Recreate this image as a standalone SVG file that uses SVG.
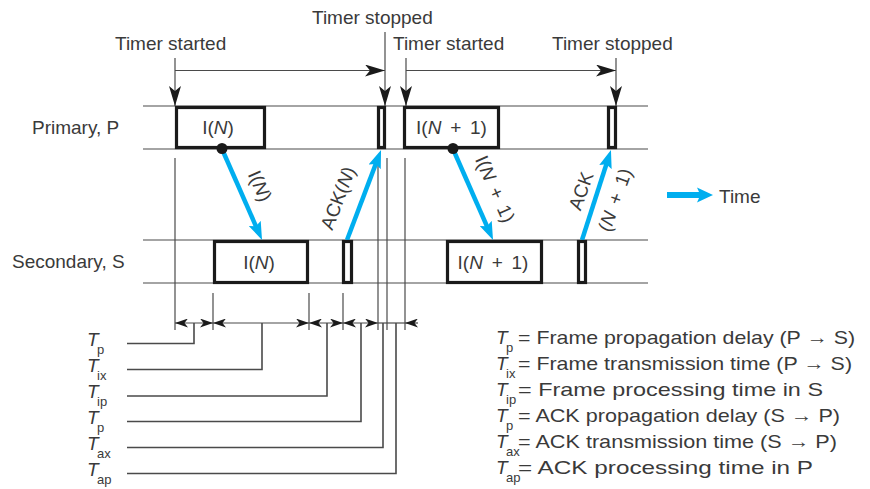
<svg xmlns="http://www.w3.org/2000/svg" width="870" height="489" viewBox="0 0 870 489">
<style>
text{font-family:"Liberation Sans",Arial,sans-serif;font-size:19px;fill:#3a3a3a}
.it{font-style:italic}
.sub{font-size:13px}
.thin{stroke:#4a4a4a;stroke-width:1.2;fill:none}
.lead{stroke:#4a4a4a;stroke-width:1.6;fill:none}
.box{fill:#fff;stroke:#1a1a1a;stroke-width:3.2}
.blue{stroke:#00aeef;stroke-width:4.5;fill:none}
.dot{fill:#1a1a1a}
.mid{text-anchor:middle}
.ws{word-spacing:3.5px}
</style>
<defs>
<marker id="ah" viewBox="0 0 20 12" markerWidth="20" markerHeight="12" refX="20" refY="6" orient="auto" markerUnits="userSpaceOnUse"><path d="M0,0 L20,6 L0,12 L5,6 Z" fill="#1a1a1a"/></marker>
<marker id="dh" viewBox="0 0 13 9" markerWidth="13" markerHeight="9" refX="13" refY="4.5" orient="auto-start-reverse" markerUnits="userSpaceOnUse"><path d="M0,0 L13,4.5 L0,9 L3.5,4.5 Z" fill="#1a1a1a"/></marker>
<marker id="bh" viewBox="0 0 18 13" markerWidth="18" markerHeight="13" refX="8" refY="6.5" orient="auto" markerUnits="userSpaceOnUse"><path d="M0,0 L18,6.5 L0,13 L3,6.5 Z" fill="#00aeef"/></marker>
</defs>
<rect width="870" height="489" fill="#fff"/>

<g id="channels">
<line class="thin" x1="143" y1="106" x2="648" y2="106"/>
<line class="thin" x1="143" y1="149" x2="648" y2="149"/>
<line class="thin" x1="143" y1="240" x2="648" y2="240"/>
<line class="thin" x1="143" y1="283" x2="648" y2="283"/>
<text x="32" y="134">Primary, P</text>
<text x="12" y="268">Secondary, S</text>
</g>

<g id="connectors">
<!-- timer arrows -->
<line class="thin" x1="175" y1="58" x2="175" y2="106" marker-end="url(#ah)"/>
<line class="thin" x1="175" y1="70.5" x2="385" y2="70.5" marker-end="url(#ah)"/>
<line class="thin" x1="385" y1="32" x2="385" y2="106" marker-end="url(#ah)"/>
<line class="thin" x1="406" y1="58" x2="406" y2="106" marker-end="url(#ah)"/>
<line class="thin" x1="406" y1="70.5" x2="616" y2="70.5" marker-end="url(#ah)"/>
<line class="thin" x1="616" y1="58" x2="616" y2="106" marker-end="url(#ah)"/>
<!-- extension lines -->
<line class="thin" x1="175" y1="158" x2="175" y2="330"/>
<line class="thin" x1="213" y1="293" x2="213" y2="330"/>
<line class="thin" x1="309" y1="293" x2="309" y2="330"/>
<line class="thin" x1="343" y1="293" x2="343" y2="330"/>
<line class="thin" x1="378" y1="158" x2="378" y2="330"/>
<line class="thin" x1="387" y1="158" x2="387" y2="330"/>
<line class="thin" x1="405" y1="158" x2="405" y2="330"/>
<!-- dimension line -->
<line class="thin" x1="175" y1="323" x2="213" y2="323" marker-start="url(#dh)" marker-end="url(#dh)"/>
<line class="thin" x1="213" y1="323" x2="309" y2="323" marker-start="url(#dh)" marker-end="url(#dh)"/>
<line class="thin" x1="309" y1="323" x2="343" y2="323" marker-start="url(#dh)" marker-end="url(#dh)"/>
<line class="thin" x1="343" y1="323" x2="378" y2="323" marker-start="url(#dh)" marker-end="url(#dh)"/>
<line class="thin" x1="378" y1="323" x2="405" y2="323"/>
<line class="thin" x1="405" y1="323" x2="418" y2="323" marker-start="url(#dh)"/>
<!-- leader lines -->
<polyline class="lead" points="194,323 194,343.5 127,343.5"/>
<polyline class="lead" points="262,323 262,369.5 127,369.5"/>
<polyline class="lead" points="327,323 327,396 127,396"/>
<polyline class="lead" points="361,323 361,421.5 127,421.5"/>
<polyline class="lead" points="383,323 383,447.5 127,447.5"/>
<polyline class="lead" points="396,323 396,473.5 127,473.5"/>
<!-- blue frame arrows -->
<line class="blue" x1="222" y1="149" x2="258" y2="230.8" marker-end="url(#bh)"/>
<line class="blue" x1="347" y1="240" x2="377.5" y2="159.4" marker-end="url(#bh)"/>
<line class="blue" x1="453" y1="149" x2="489" y2="230.8" marker-end="url(#bh)"/>
<line class="blue" x1="582" y1="240" x2="607.9" y2="159.5" marker-end="url(#bh)"/>
</g>

<g id="timer-labels">
<text x="115" y="50">Timer started</text>
<text x="312" y="24">Timer stopped</text>
<text x="393" y="50">Timer started</text>
<text x="552" y="50">Timer stopped</text>
</g>

<g id="frame-N-primary">
<rect class="box" x="176.5" y="107.5" width="88" height="40"/>
<text class="mid" x="218" y="134">I(<tspan class="it">N</tspan>)</text>
</g>
<g id="ack-N-primary"><rect class="box" x="378.5" y="107.5" width="6" height="40"/></g>
<g id="frame-N1-primary">
<rect class="box" x="404.5" y="107.5" width="94" height="40"/>
<text class="mid ws" x="451.5" y="134">I(<tspan class="it">N</tspan> + 1)</text>
</g>
<g id="ack-N1-primary"><rect class="box" x="608.5" y="107.5" width="7" height="40"/></g>

<g id="frame-N-secondary">
<rect class="box" x="214.5" y="241.5" width="93" height="41"/>
<text class="mid" x="259" y="269">I(<tspan class="it">N</tspan>)</text>
</g>
<g id="ack-N-secondary"><rect class="box" x="343.5" y="241.5" width="8" height="41"/></g>
<g id="frame-N1-secondary">
<rect class="box" x="447.5" y="241.5" width="94" height="41"/>
<text class="mid ws" x="493" y="269">I(<tspan class="it">N</tspan> + 1)</text>
</g>
<g id="ack-N1-secondary"><rect class="box" x="578.5" y="241.5" width="7" height="41"/></g>

<g id="dots">
<circle class="dot" cx="222" cy="148.5" r="5.5"/>
<circle class="dot" cx="453" cy="148.5" r="5.5"/>
</g>

<g id="arrow-labels">
<text class="mid" transform="translate(260,186) rotate(66)" y="6.5">I(<tspan class="it">N</tspan>)</text>
<text class="mid" transform="translate(338,198) rotate(-69)" y="6.5">ACK(<tspan class="it">N</tspan>)</text>
<text class="mid ws" transform="translate(495,189) rotate(66)" y="6.5">I(<tspan class="it">N</tspan> + 1)</text>
<text class="mid" transform="translate(581,191) rotate(-70)" y="6.5">ACK</text>
<text class="mid ws" transform="translate(615,200) rotate(-70)" y="6.5">(<tspan class="it">N</tspan> + 1)</text>
</g>

<g id="time-arrow">
<polygon points="667,192 699,192 697,187.5 713,195 697,202.5 699,198 667,198" fill="#00aeef"/>
<text x="719" y="203">Time</text>
</g>

<g id="interval-labels">
<text class="it" x="87" y="345.5">T</text><text class="sub" x="97" y="353.5">p</text>
<text class="it" x="87" y="371.5">T</text><text class="sub" x="97" y="379.5">ix</text>
<text class="it" x="87" y="398">T</text><text class="sub" x="97" y="406">ip</text>
<text class="it" x="87" y="423.5">T</text><text class="sub" x="97" y="431.5">p</text>
<text class="it" x="87" y="449.5">T</text><text class="sub" x="97" y="457.5">ax</text>
<text class="it" x="87" y="475.5">T</text><text class="sub" x="97" y="483.5">ap</text>
</g>

<g id="legend">
<text class="it" x="496" y="344">T</text><text class="sub" x="506" y="352">p</text>
<text x="518" y="344" textLength="337" lengthAdjust="spacingAndGlyphs">= Frame propagation delay (P → S)</text>
<text class="it" x="496" y="370">T</text><text class="sub" x="506" y="378">ix</text>
<text x="518" y="370" textLength="334" lengthAdjust="spacingAndGlyphs">= Frame transmission time (P → S)</text>
<text class="it" x="496" y="396">T</text><text class="sub" x="506" y="404">ip</text>
<text x="518" y="396" textLength="305" lengthAdjust="spacingAndGlyphs">= Frame processing time in S</text>
<text class="it" x="496" y="422">T</text><text class="sub" x="506" y="430">p</text>
<text x="518" y="422" textLength="322" lengthAdjust="spacingAndGlyphs">= ACK propagation delay (S → P)</text>
<text class="it" x="496" y="448">T</text><text class="sub" x="506" y="456">ax</text>
<text x="518" y="448" textLength="319" lengthAdjust="spacingAndGlyphs">= ACK transmission time (S → P)</text>
<text class="it" x="496" y="474">T</text><text class="sub" x="506" y="482">ap</text>
<text x="518" y="474" textLength="295" lengthAdjust="spacingAndGlyphs">= ACK processing time in P</text>
</g>
</svg>
